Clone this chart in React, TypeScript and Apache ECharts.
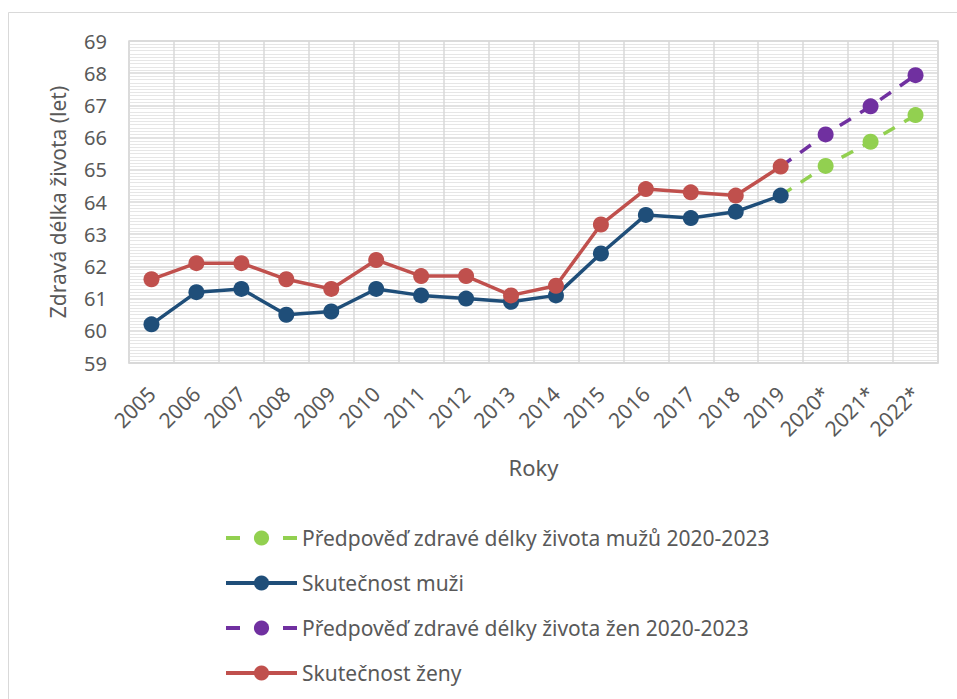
import React, { useEffect, useRef } from "react";
import * as echarts from "echarts";

const categories = ["2005","2006","2007","2008","2009","2010","2011","2012","2013","2014","2015","2016","2017","2018","2019","2020*","2021*","2022*"];
const menActual = [60.2, 61.2, 61.3, 60.5, 60.6, 61.3, 61.1, 61.0, 60.9, 61.1, 62.4, 63.6, 63.5, 63.7, 64.2, null, null, null];
const womenActual = [61.6, 62.1, 62.1, 61.6, 61.3, 62.2, 61.7, 61.7, 61.1, 61.4, 63.3, 64.4, 64.3, 64.2, 65.1, null, null, null];
const menForecast = [null, null, null, null, null, null, null, null, null, null, null, null, null, null, 64.2, 65.12, 65.87, 66.7];
const womenForecast = [null, null, null, null, null, null, null, null, null, null, null, null, null, null, 65.1, 66.1, 66.97, 67.94];
const yTicks = { min: 59, max: 69, interval: 1 };

const FONT = "'Noto Sans', sans-serif";
const TEXT = "#595959";

const NAME_MF = "Předpověď zdravé délky života mužů 2020-2023";
const NAME_M = "Skutečnost muži";
const NAME_WF = "Předpověď zdravé délky života žen 2020-2023";
const NAME_W = "Skutečnost ženy";

function withStart(arr: (number | null)[]) {
  return arr.map((v, i) => (v !== null && i === 14 ? { value: v, symbol: "none" } : v));
}

export default function App() {
  const ref = useRef<HTMLDivElement>(null);
  useEffect(() => {
    if (!ref.current) return;
    const chart = echarts.init(ref.current, undefined, { renderer: "svg" });
    const lineBase = (name: string, color: string, data: any[], dashed: boolean) => ({
      name,
      type: "line",
      data,
      symbol: "circle",
      symbolSize: 16,
      connectNulls: false,
      itemStyle: { color },
      lineStyle: { color, width: 3.5, type: dashed ? [13, 11] : "solid" },
      z: dashed ? 2 : 3,
    });
    chart.setOption({
      animation: false,
      textStyle: { fontFamily: FONT },
      graphic: [
        {
          type: "rect",
          shape: { x: 8.5, y: 12.5, width: 1200, height: 1200 },
          style: { fill: "none", stroke: "#d9d9d9", lineWidth: 1 },
          silent: true,
        },
      ],
      grid: {
        left: 129,
        top: 41,
        width: 809,
        height: 322,
        show: true,
        borderColor: "#d9d9d9",
        borderWidth: 1.5,
      },
      xAxis: {
        type: "category",
        data: categories,
        boundaryGap: true,
        name: "Roky",
        nameLocation: "middle",
        nameGap: 93,
        nameTextStyle: { color: TEXT, fontSize: 22, fontFamily: FONT },
        axisLine: { show: true, lineStyle: { color: "#d9d9d9", width: 1.5 } },
        axisTick: { show: false },
        axisLabel: { rotate: 45, color: TEXT, fontSize: 21, fontFamily: FONT, margin: 27, interval: 0 },
        splitLine: { show: true, interval: 0, lineStyle: { color: "#d9d9d9", width: 1.5 } },
      },
      yAxis: {
        type: "value",
        min: yTicks.min,
        max: yTicks.max,
        interval: yTicks.interval,
        name: "Zdravá délka života (let)",
        nameLocation: "middle",
        nameRotate: 90,
        nameGap: 61,
        nameTextStyle: { color: TEXT, fontSize: 21, fontFamily: FONT },
        axisLine: { show: false },
        axisTick: { show: false },
        axisLabel: { color: TEXT, fontSize: 20, fontFamily: FONT, margin: 22 },
        splitLine: { show: true, lineStyle: { color: "#d9d9d9", width: 1.5 } },
        minorTick: { show: true, splitNumber: 10, length: 0, lineStyle: { color: "rgba(0,0,0,0)" } },
        minorSplitLine: { show: true, lineStyle: { color: "#e6e6e6", width: 1 } },
      },
      legend: {
        orient: "vertical",
        left: 219,
        top: 521,
        itemWidth: 71,
        itemHeight: 19,
        itemGap: 21,
        textStyle: { color: TEXT, fontSize: 21, fontFamily: FONT, lineHeight: 24 },
        data: [
          { name: NAME_MF, lineStyle: { type: [14, 43], width: 4 } },
          { name: NAME_M, lineStyle: { width: 4 } },
          { name: NAME_WF, lineStyle: { type: [14, 43], width: 4 } },
          { name: NAME_W, lineStyle: { width: 4 } },
        ],
      },
      series: [
        lineBase(NAME_MF, "#92D050", withStart(menForecast), true),
        lineBase(NAME_M, "#1F4E79", menActual, false),
        lineBase(NAME_WF, "#7030A0", withStart(womenForecast), true),
        lineBase(NAME_W, "#C0504D", womenActual, false),
      ],
    });
    return () => chart.dispose();
  }, []);
  return (
    <div
      ref={ref}
      style={{ position: "absolute", left: 0, top: 0, width: 957, height: 699, background: "#fff" }}
    />
  );
}
